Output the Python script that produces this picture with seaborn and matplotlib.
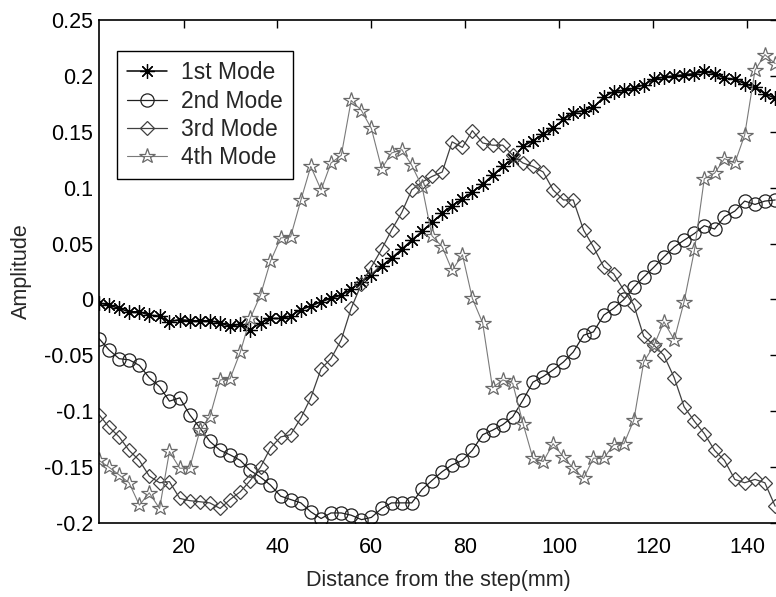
import matplotlib

matplotlib.use("Agg")
import matplotlib.pyplot as plt
import numpy as np
import pandas as pd
import seaborn as sns

# distance from the step (mm), 68 sample positions
distance = [
    2.0, 4.1, 6.3, 8.4, 10.6, 12.7, 14.9, 17.0, 19.2, 21.3,
    23.5, 25.6, 27.8, 29.9, 32.1, 34.2, 36.4, 38.5, 40.7, 42.8,
    45.0, 47.1, 49.3, 51.4, 53.6, 55.7, 57.9, 60.0, 62.2, 64.3,
    66.5, 68.6, 70.8, 72.9, 75.1, 77.2, 79.4, 81.5, 83.7, 85.8,
    88.0, 90.1, 92.3, 94.4, 96.6, 98.7, 100.9, 103.0, 105.2, 107.3,
    109.5, 111.6, 113.8, 115.9, 118.0, 120.2, 122.3, 124.5, 126.6, 128.8,
    130.9, 133.1, 135.2, 137.4, 139.5, 141.7, 143.8, 146.0,
]

mode1 = [
    -0.003, -0.005, -0.008, -0.011, -0.011, -0.014, -0.015, -0.020, -0.018, -0.019,
    -0.019, -0.019, -0.021, -0.024, -0.022, -0.027, -0.021, -0.017, -0.017, -0.015,
    -0.009, -0.006, -0.002, 0.001, 0.004, 0.009, 0.016, 0.022, 0.030, 0.037,
    0.045, 0.053, 0.061, 0.069, 0.077, 0.084, 0.090, 0.096, 0.103, 0.111,
    0.119, 0.126, 0.137, 0.142, 0.148, 0.153, 0.161, 0.167, 0.169, 0.172,
    0.181, 0.186, 0.187, 0.189, 0.192, 0.197, 0.199, 0.200, 0.201, 0.202,
    0.204, 0.202, 0.198, 0.197, 0.193, 0.190, 0.184, 0.180,
]

mode2 = [
    -0.035, -0.045, -0.053, -0.054, -0.059, -0.070, -0.078, -0.091, -0.088, -0.103,
    -0.115, -0.127, -0.135, -0.139, -0.144, -0.153, -0.159, -0.166, -0.176, -0.179,
    -0.182, -0.190, -0.196, -0.191, -0.191, -0.193, -0.197, -0.195, -0.187, -0.182,
    -0.182, -0.182, -0.170, -0.162, -0.154, -0.148, -0.144, -0.135, -0.121, -0.117,
    -0.112, -0.105, -0.090, -0.074, -0.069, -0.063, -0.056, -0.047, -0.032, -0.029,
    -0.014, -0.008, 0.000, 0.011, 0.020, 0.029, 0.038, 0.047, 0.053, 0.059,
    0.066, 0.063, 0.074, 0.079, 0.088, 0.085, 0.088, 0.089,
]

mode3 = [
    -0.103, -0.114, -0.123, -0.135, -0.144, -0.158, -0.164, -0.163, -0.178, -0.180,
    -0.181, -0.182, -0.187, -0.179, -0.172, -0.162, -0.150, -0.133, -0.123, -0.121,
    -0.106, -0.088, -0.062, -0.053, -0.036, -0.008, 0.014, 0.029, 0.045, 0.062,
    0.078, 0.098, 0.105, 0.110, 0.114, 0.141, 0.136, 0.151, 0.140, 0.138,
    0.138, 0.129, 0.122, 0.119, 0.114, 0.098, 0.089, 0.089, 0.062, 0.047,
    0.029, 0.023, 0.008, -0.005, -0.033, -0.041, -0.050, -0.070, -0.096, -0.109,
    -0.120, -0.135, -0.144, -0.161, -0.164, -0.161, -0.164, -0.185,
]

mode4 = [
    -0.144, -0.150, -0.157, -0.164, -0.184, -0.173, -0.187, -0.136, -0.151, -0.151,
    -0.117, -0.105, -0.072, -0.071, -0.047, -0.017, 0.004, 0.034, 0.055, 0.056,
    0.089, 0.119, 0.098, 0.122, 0.129, 0.178, 0.169, 0.153, 0.117, 0.131,
    0.134, 0.120, 0.101, 0.057, 0.047, 0.026, 0.040, 0.001, -0.021, -0.079,
    -0.072, -0.075, -0.111, -0.142, -0.145, -0.129, -0.141, -0.151, -0.160, -0.142,
    -0.142, -0.130, -0.129, -0.108, -0.056, -0.041, -0.020, -0.036, -0.002, 0.044,
    0.108, 0.113, 0.126, 0.122, 0.147, 0.205, 0.219, 0.211,
]

mode_names = ["1st Mode", "2nd Mode", "3rd Mode", "4th Mode"]
x_ticks = [20, 40, 60, 80, 100, 120, 140]
y_ticks = [-0.2, -0.15, -0.1, -0.05, 0, 0.05, 0.1, 0.15, 0.2, 0.25]
y_tick_labels = ["-0.2", "-0.15", "-0.1", "-0.05", "0", "0.05", "0.1", "0.15", "0.2", "0.25"]

df = pd.DataFrame({
    "distance": distance,
    mode_names[0]: mode1,
    mode_names[1]: mode2,
    mode_names[2]: mode3,
    mode_names[3]: mode4,
})

sns.set_style("white")
plt.rcParams["font.family"] = ["Liberation Sans", "DejaVu Sans"]

# marker style per mode (matlab look: *, o, d, p)
styles = {
    mode_names[0]: dict(marker=(8, 2, 0), color="black", mec="black", ms=10.5, lw=1.1),
    mode_names[1]: dict(marker="o", color="#202020", mec="#202020", ms=9.5, lw=0.9),
    mode_names[2]: dict(marker="D", color="#404040", mec="#404040", ms=7, lw=0.9),
    mode_names[3]: dict(marker="*", color="#7a7a7a", mec="#6a6a6a", ms=11.5, lw=0.8),
}

fig = plt.figure(figsize=(7.76, 5.97), dpi=100)
ax = fig.add_axes([99 / 776, 74 / 597, 679 / 776, 503 / 597])

for name in mode_names:
    st = styles[name]
    sns.lineplot(
        data=df, x="distance", y=name, ax=ax, label=name,
        color=st["color"], linewidth=st["lw"], marker=st["marker"],
        markersize=st["ms"], markerfacecolor="none", markeredgecolor=st["mec"],
        markeredgewidth=0.9,
    )

ax.set_xlim(2, 146.6)
ax.set_ylim(-0.2, 0.25)
ax.set_xticks(x_ticks)
ax.set_yticks(y_ticks)
ax.set_yticklabels(y_tick_labels)
ax.set_xlabel("Distance from the step(mm)", fontsize=15.5, labelpad=9)
ax.set_ylabel("Amplitude", fontsize=15.5, labelpad=9)
ax.tick_params(direction="in", length=6, width=1, top=True, right=True,
               labelsize=15.5, colors="black")
ax.tick_params(axis="x", pad=10)
ax.tick_params(axis="y", pad=4)
for sp in ax.spines.values():
    sp.set_color("black")
    sp.set_linewidth(1.2)

leg = ax.legend(loc="upper left", bbox_to_anchor=(0.0265, 0.938), fontsize=16.5,
                frameon=True, fancybox=False, numpoints=1, handlelength=1.75,
                handletextpad=0.6, labelspacing=0.22, borderpad=0.45,
                borderaxespad=0)
leg.get_frame().set_edgecolor("black")
leg.get_frame().set_linewidth(1.0)
leg.get_frame().set_alpha(1)

fig.savefig("out.png", dpi=100)
plt.close(fig)
